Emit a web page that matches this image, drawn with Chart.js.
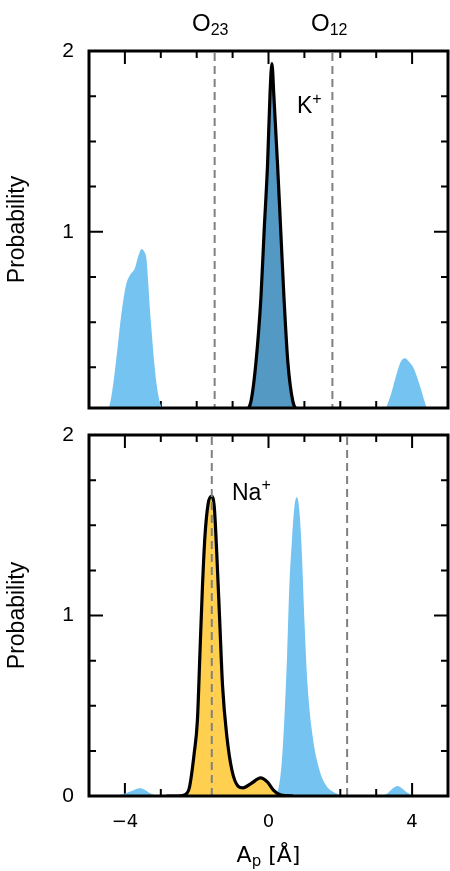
<!DOCTYPE html>
<html><head><meta charset="utf-8">
<script src="https://cdn.jsdelivr.net/npm/chart.js@4"></script>
<style>
html,body{margin:0;padding:0;background:#fff;}
#wrap{position:relative;width:450px;height:871px;overflow:hidden;}
canvas{position:absolute;left:0;}
#cA{top:0;width:450px;height:430px;}
#cB{top:410px;width:450px;height:461px;}
</style></head><body>
<div id="wrap"><canvas id="cA" width="450" height="430"></canvas><canvas id="cB" width="450" height="461"></canvas></div>
<script>
// ---------- data ----------
// Top panel (K+)
const topKX = [-0.8,-0.62,-0.49,-0.35,-0.21,-0.12,-0.025,0.04,0.095,0.15,0.25,0.34,0.43,0.54,0.68,0.85];
const topKY = [0,0.01,0.06,0.276,0.64,1.01,1.38,1.75,1.93,1.75,1.38,1.01,0.64,0.276,0.06,0];
const topBlueLX = [-4.55,-4.44,-4.33,-4.22,-4.12,-4.03,-3.95,-3.86,-3.72,-3.62,-3.53,-3.46,-3.40,-3.35,-3.31,-3.26,-3.19,-3.12,-3.03,-2.95,-2.85];
const topBlueLY = [0,0.03,0.15,0.33,0.51,0.64,0.72,0.76,0.80,0.87,0.905,0.89,0.85,0.72,0.59,0.46,0.29,0.16,0.06,0.02,0];
const topBlueRX = [3.15,3.27,3.36,3.45,3.52,3.59,3.68,3.80,3.92,4.00,4.06,4.13,4.19,4.26,4.33,4.40,4.48];
const topBlueRY = [0,0.025,0.07,0.127,0.18,0.228,0.28,0.30,0.28,0.26,0.238,0.20,0.164,0.12,0.072,0.03,0];
const topDashes = [-1.5, 1.78];
// Bottom panel (Na+)
const botNaX = [-2.84,-2.5,-2.3,-2.2,-2.07,-1.98,-1.91,-1.84,-1.77,-1.68,-1.59,-1.51,-1.44,-1.36,-1.28,-1.16,-1.02,-0.85,-0.71,-0.48,-0.22,-0.02,0.15,0.35,0.68];
const botNaY = [0,0,0.01,0.05,0.236,0.42,0.79,1.16,1.44,1.62,1.66,1.60,1.34,0.975,0.61,0.33,0.144,0.055,0.045,0.07,0.10,0.075,0.03,0.005,0];
const botBlueMX = [0.15,0.21,0.35,0.44,0.52,0.58,0.66,0.72,0.79,0.86,0.93,1.0,1.09,1.23,1.42,1.6,1.88,2.06];
const botBlueMY = [0,0.005,0.144,0.42,0.79,1.16,1.44,1.60,1.655,1.58,1.34,0.975,0.61,0.33,0.144,0.06,0.015,0];
const botBlueLX = [-4.35,-4.1,-3.85,-3.7,-3.58,-3.45,-3.3,-3.1,-2.95];
const botBlueLY = [0,0.008,0.025,0.038,0.043,0.035,0.015,0.002,0];
const botBlueRX = [3.15,3.3,3.45,3.59,3.72,3.87,4.0,4.15];
const botBlueRY = [0,0.012,0.04,0.055,0.042,0.018,0.005,0];
const botDashes = [-1.58, 2.19];
// ticks
const xTickVals = [-4, 0, 4];
const xTickLabels = ['\u22124', '0', '4'];
const xMinorVals = [-4,-3,-2,-1,0,1,2,3,4];
const yTickTop = [1, 2];
const yTickBot = [0, 1, 2];
const yMinorVals = [0.25,0.5,0.75,1,1.25,1.5,1.75];
const yMajorVals = [1];

// ---------- styles ----------
const LIGHT = 'rgb(116,195,241)';
const DARK = 'rgb(84,153,196)';
const YELLOW = 'rgb(255,207,80)';
const HF = '"Liberation Sans", Arial, Helvetica, sans-serif';
const DF = '"DejaVu Sans", Verdana, sans-serif';
const B_OFF = 410; // page offset of bottom canvas

const pts = (xs, ys) => xs.map((x, i) => ({x, y: ys[i]}));
const area = (xs, ys, bg, border) => ({
  data: pts(xs, ys), backgroundColor: bg, fill: 'origin',
  borderColor: border || bg, borderWidth: border ? 3.2 : 0,
  cubicInterpolationMode: 'monotone', pointRadius: 0, borderJoinStyle: 'round'
});
const noPad = s => { s.paddingTop = 0; s.paddingBottom = 0; s.paddingLeft = 0; s.paddingRight = 0; };

function panelPlugin(dashes, drawText) {
  return {
    id: 'panel',
    beforeDatasetsDraw(chart) {
      const {ctx, chartArea: {left, right, top, bottom}, scales: {x, y}} = chart;
      ctx.save();
      ctx.strokeStyle = '#000'; ctx.lineWidth = 2;
      ctx.beginPath();
      for (const v of xMinorVals) {
        const px = x.getPixelForValue(v);
        const L = xTickVals.includes(v) ? 13 : 7;
        ctx.moveTo(px, top); ctx.lineTo(px, top + L);
        ctx.moveTo(px, bottom); ctx.lineTo(px, bottom - L);
      }
      for (const v of yMinorVals) {
        const py = y.getPixelForValue(v);
        if (py <= top + 1 || py >= bottom - 1) continue;
        const L = yMajorVals.includes(v) ? 14 : 7;
        ctx.moveTo(left, py); ctx.lineTo(left + L, py);
        ctx.moveTo(right, py); ctx.lineTo(right - L, py);
      }
      ctx.stroke();
      ctx.restore();
    },
    afterDatasetsDraw(chart) {
      const {ctx, chartArea: {left, right, top, bottom}, scales: {x}} = chart;
      ctx.save();
      ctx.strokeStyle = '#808080'; ctx.lineWidth = 2; ctx.setLineDash([8, 5]);
      for (const v of dashes) {
        const px = x.getPixelForValue(v);
        ctx.beginPath(); ctx.moveTo(px, top + 2); ctx.lineTo(px, bottom); ctx.stroke();
      }
      ctx.setLineDash([]);
      ctx.strokeStyle = '#000'; ctx.lineWidth = 3;
      ctx.strokeRect(left, top, right - left, bottom - top);
      ctx.fillStyle = '#000';
      drawText(ctx, chart);
      ctx.restore();
    }
  };
}

function subText(ctx, main, sub, x, y, fs, ss, dy, font) {
  ctx.textAlign = 'left'; ctx.textBaseline = 'alphabetic';
  ctx.font = fs + 'px ' + font; ctx.fillText(main, x, y);
  const w = ctx.measureText(main).width;
  ctx.font = ss + 'px ' + font; ctx.fillText(sub, x + w, y + dy);
}

function yScale(min, ticksArr) {
  return {
    type: 'linear', min: min, max: 2,
    grid: {display: false, drawTicks: false}, border: {display: false},
    afterBuildTicks: s => { s.ticks = ticksArr.map(v => ({value: v})); },
    ticks: {font: {family: HF, size: 21}, color: '#000', padding: 15, callback: v => String(v)},
    title: {display: true, text: 'Probability', font: {family: HF, size: 23}, color: '#000', padding: {top: 4, bottom: 0}},
    afterFit: s => { s.width = 89; noPad(s); }
  };
}

const common = {
  responsive: false, animation: false, devicePixelRatio: 1,
  plugins: {legend: {display: false}, tooltip: {enabled: false}},
  elements: {point: {radius: 0}}
};

new Chart(document.getElementById('cA'), {
  type: 'line',
  data: {datasets: [
    area(topKX, topKY, DARK, '#000'),
    area(topBlueLX, topBlueLY, LIGHT),
    area(topBlueRX, topBlueRY, LIGHT)
  ]},
  options: Object.assign({}, common, {
    layout: {padding: {left: 0, right: 2, top: 51, bottom: 22}},
    scales: {
      x: {type: 'linear', min: -5, max: 5, display: false},
      y: yScale(0.025, yTickTop)
    }
  }),
  plugins: [panelPlugin(topDashes, (ctx) => {
    subText(ctx, 'O', '23', 192, 31, 24, 16, 4, HF);
    subText(ctx, 'O', '12', 311, 31, 24, 16, 4, HF);
    subText(ctx, 'K', '+', 297, 113, 23, 16, -9, HF);
  })]
});

new Chart(document.getElementById('cB'), {
  type: 'line',
  data: {datasets: [
    area(botNaX, botNaY, YELLOW, '#000'),
    area(botBlueMX, botBlueMY, LIGHT),
    area(botBlueLX, botBlueLY, LIGHT),
    area(botBlueRX, botBlueRY, LIGHT)
  ]},
  options: Object.assign({}, common, {
    layout: {padding: {left: 0, right: 2, top: 435 - B_OFF, bottom: 0}},
    scales: {
      x: {
        type: 'linear', min: -5, max: 5,
        grid: {display: false, drawTicks: false}, border: {display: false},
        afterBuildTicks: s => { s.ticks = xTickVals.map(v => ({value: v})); },
        ticks: {font: {family: DF, size: 18}, color: '#000', padding: 16, maxRotation: 0,
                callback: (v) => xTickLabels[xTickVals.indexOf(v)]},
        afterFit: s => { s.height = 871 - 796; noPad(s); }
      },
      y: yScale(0, yTickBot)
    }
  }),
  plugins: [panelPlugin(botDashes, (ctx, chart) => {
    subText(ctx, 'Na', '+', 232, 500 - B_OFF, 23, 16, -10, HF);
    // x axis title: A_p [Å]
    const x0 = chart.scales.x.getPixelForValue(0);
    const by = 862 - B_OFF;
    ctx.font = '22px ' + DF; const wA = ctx.measureText('A').width;
    const wB = ctx.measureText(' [\u00C5]').width;
    ctx.font = '15px ' + DF; const wp = ctx.measureText('p').width;
    const sx = x0 - (wA + wp + wB) / 2;
    ctx.textAlign = 'left'; ctx.textBaseline = 'alphabetic';
    ctx.font = '22px ' + DF; ctx.fillText('A', sx, by);
    ctx.font = '15px ' + DF; ctx.fillText('p', sx + wA, by + 4);
    ctx.font = '22px ' + DF; ctx.fillText(' [\u00C5]', sx + wA + wp, by);
  })]
});
</script>
</body></html>
